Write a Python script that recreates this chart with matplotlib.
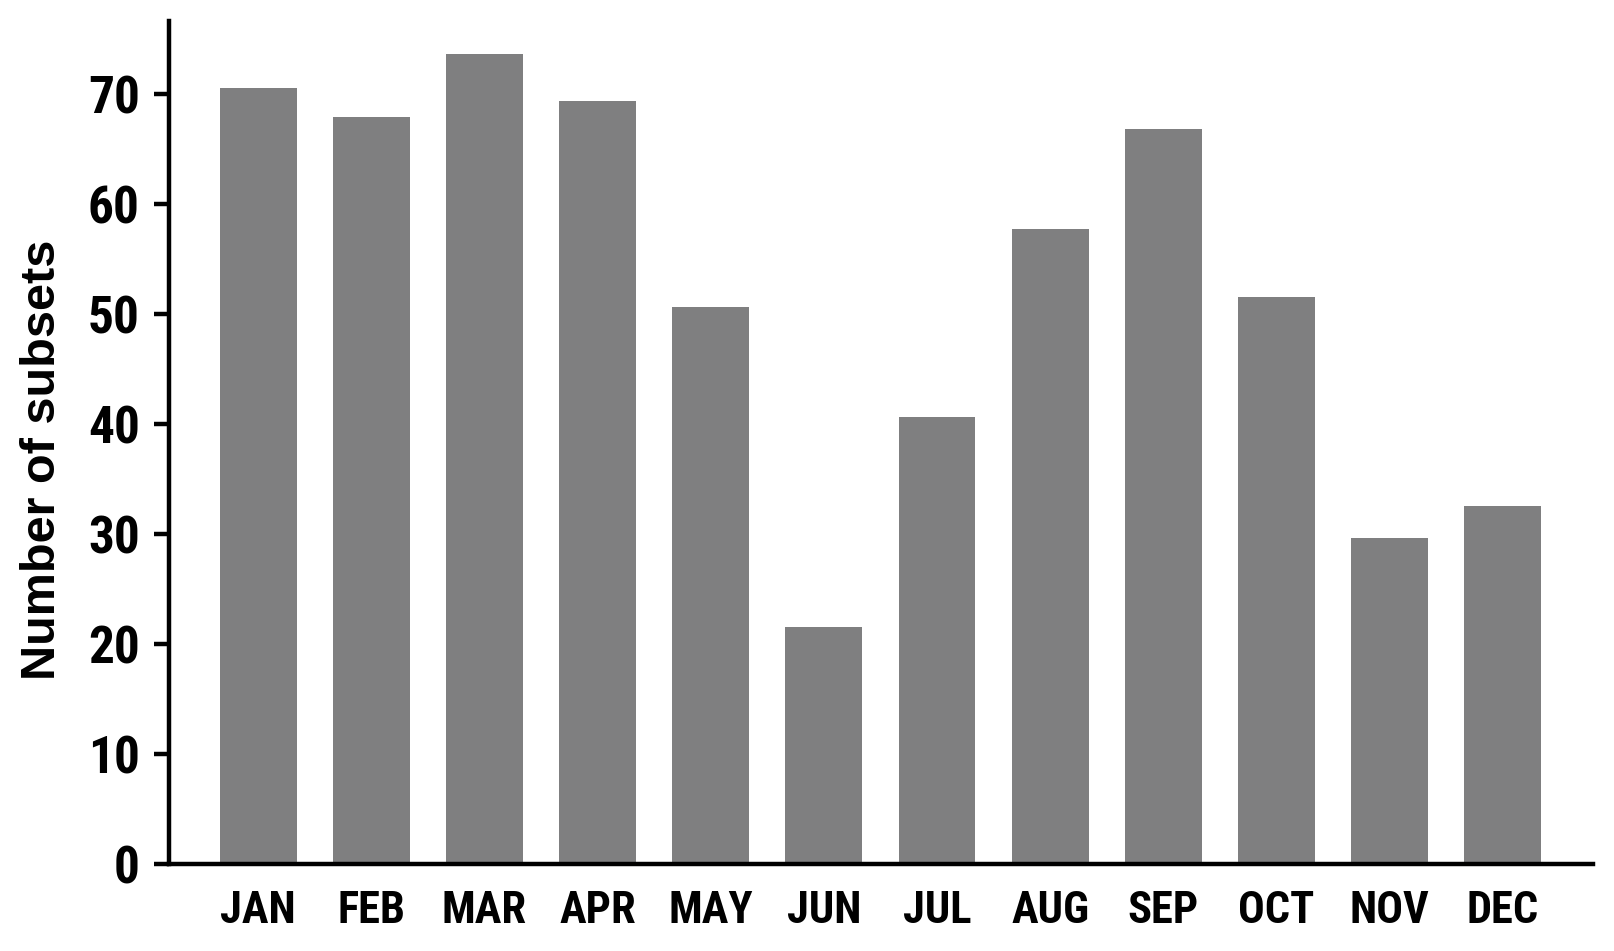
import numpy as np
import matplotlib.pyplot as plt
from matplotlib import font_manager

# Subsets per month
months = ['JAN', 'FEB', 'MAR', 'APR', 'MAY', 'JUN', 'JUL', 'AUG', 'SEP', 'OCT', 'NOV', 'DEC']
subsets = [70.5, 67.9, 73.6, 69.3, 50.6, 21.5, 40.6, 57.7, 66.8, 51.5, 29.6, 32.5]
yticks = [0, 10, 20, 30, 40, 50, 60, 70]

# pick a condensed bold family if one is installed
installed = set(f.name for f in font_manager.fontManager.ttflist)
wanted = ['Roboto Condensed', 'Archivo Narrow', 'PT Sans Narrow', 'Fira Sans Condensed',
          'IBM Plex Sans Condensed', 'Barlow Semi Condensed', 'Liberation Sans']
cond = next(n for n in wanted if n in installed)
narrow = [cond, 'DejaVu Sans']
wide = ['Liberation Sans', 'DejaVu Sans']

fig = plt.figure(figsize=(16.14, 9.51), dpi=100)
ax = fig.add_axes([0.1047, 0.0915, 0.8823, 0.8865])

x = np.arange(len(months))
ax.bar(x, subsets, width=0.68, color='#7f7f80')

ax.set_xlim(-0.79, 11.8)
ax.set_ylim(0, 76.6)

ax.spines['top'].set_visible(False)
ax.spines['right'].set_visible(False)
ax.spines['left'].set_linewidth(3.2)
ax.spines['bottom'].set_linewidth(3.2)

ax.set_yticks(yticks)
ax.set_yticklabels([str(t) for t in yticks], family=narrow, fontweight='bold', fontsize=37)
ax.tick_params(axis='y', length=11, width=3.2, pad=10, color='black')

ax.set_xticks(x)
ax.set_xticklabels(months, family=narrow, fontweight='bold', fontsize=32)
ax.tick_params(axis='x', length=0, pad=19)

ax.set_ylabel('Number of subsets', family=wide, fontweight='bold', fontsize=35)
ax.yaxis.set_label_coords(-0.073, 0.48)

plt.savefig('out.png', dpi=100, facecolor='white')
